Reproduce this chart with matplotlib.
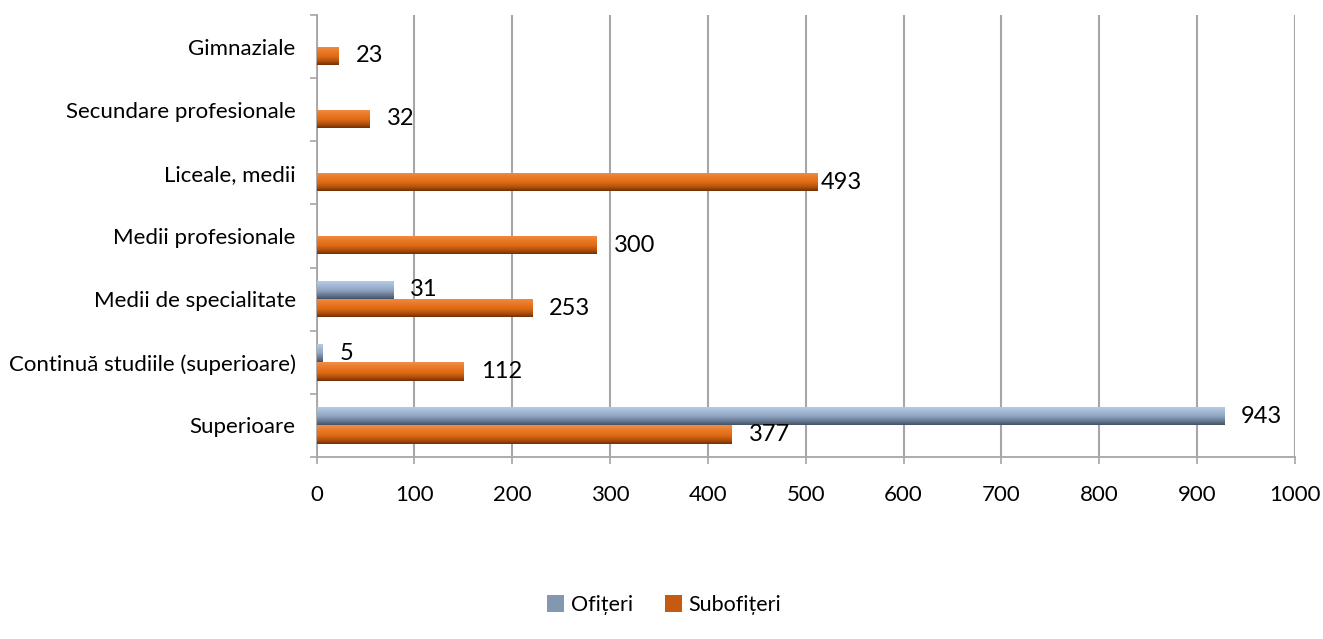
import numpy as np
import matplotlib.pyplot as plt
from matplotlib.colors import LinearSegmentedColormap
from matplotlib.patches import Patch

# categories, bottom to top
categories = ["Superioare", "Continuă studiile (superioare)", "Medii de specialitate",
              "Medii profesionale", "Liceale, medii", "Secundare profesionale", "Gimnaziale"]

# bar lengths as drawn in the picture
ofiteri = [927, 6, 78, 0, 0, 0, 0]
subofiteri = [424, 150, 220, 286, 511, 54, 22]

# data labels as printed in the picture
ofiteri_labels = ["943", "5", "31", "", "", "", ""]
subofiteri_labels = ["377", "112", "253", "300", "493", "32", "23"]

x_ticks = list(range(0, 1001, 100))

FONT = ["Lato", "DejaVu Sans"]
plt.rcParams["font.family"] = FONT

fig = plt.figure(figsize=(13.23, 6.39), dpi=100)
ax = fig.add_axes([316.5 / 1323, 1 - 457 / 639, (1295 - 316.5) / 1323, (457 - 15) / 639])

grid_col = "#A6A6A6"
ax.set_xlim(0, 1000)
ax.set_ylim(-0.5, len(categories) - 0.5)
ax.set_xticks(x_ticks)
ax.set_xticklabels([str(t) for t in x_ticks], fontsize=16)
ax.xaxis.grid(True, color=grid_col, linewidth=1.5)
ax.set_axisbelow(True)

# category boundary ticks (major) and labels at centers (minor)
y = np.arange(len(categories))
ax.set_yticks(np.arange(-0.5, len(categories), 1.0))
ax.set_yticklabels([])
ax.set_yticks(y, minor=True)
ax.set_yticklabels(categories, minor=True, fontsize=16)
ax.tick_params(axis="y", which="minor", length=0, pad=15)
ax.tick_params(axis="y", which="major", length=5, color=grid_col, width=1.2)
ax.tick_params(axis="x", length=5, color=grid_col, width=1.2, pad=15)

for s in ["top", "right"]:
    ax.spines[s].set_visible(False)
for s in ["left", "bottom"]:
    ax.spines[s].set_color(grid_col)
    ax.spines[s].set_linewidth(1.3)

orange_cmap = LinearSegmentedColormap.from_list(
    "or", [(0, "#EE9050"), (0.2, "#EC7E2E"), (0.55, "#E06A14"), (0.8, "#B0500C"), (1, "#703006")])
blue_cmap = LinearSegmentedColormap.from_list(
    "bl", [(0, "#BCCDE4"), (0.25, "#A6BCD9"), (0.55, "#8DA2C0"), (0.8, "#66788F"), (1, "#445266")])

h = 0.29
grad = np.linspace(0, 1, 64).reshape(-1, 1)


def shaded_bars(vals, offset, color, cmap):
    bars = ax.barh(y + offset, vals, height=h, color=color, linewidth=0, zorder=2)
    for b in bars:
        if b.get_width() <= 0:
            continue
        x0, y0 = b.get_x(), b.get_y()
        im = ax.imshow(grad, extent=[x0, x0 + b.get_width(), y0, y0 + b.get_height()],
                       origin="upper", aspect="auto", cmap=cmap, zorder=3)
        im.set_clip_path(b)
    return bars


bars_of = shaded_bars(ofiteri, h / 2, "#8EA4C4", blue_cmap)
bars_sub = shaded_bars(subofiteri, -h / 2, "#E46C0A", orange_cmap)
ax.set_xlim(0, 1000)
ax.set_ylim(-0.5, len(categories) - 0.5)

# value labels
for bars, labels in [(bars_of, ofiteri_labels), (bars_sub, subofiteri_labels)]:
    for b, lab in zip(bars, labels):
        if not lab:
            continue
        off = 3 if lab == "493" else 12.5
        ax.annotate(lab, (b.get_width(), b.get_y() + b.get_height() / 2),
                    xytext=(off, 0), textcoords="offset points",
                    ha="left", va="center", fontsize=17, zorder=5)

handles = [Patch(facecolor="#8497B0", edgecolor="none", label="Ofițeri"),
           Patch(facecolor="#C55A11", edgecolor="none", label="Subofițeri")]
fig.legend(handles=handles, loc="center", bbox_to_anchor=(0.502, 1 - 605 / 639), ncol=2,
           frameon=False, fontsize=15.5, handlelength=0.8, handleheight=0.8,
           handletextpad=0.3, columnspacing=1.5)

fig.savefig("out.png", dpi=100)
